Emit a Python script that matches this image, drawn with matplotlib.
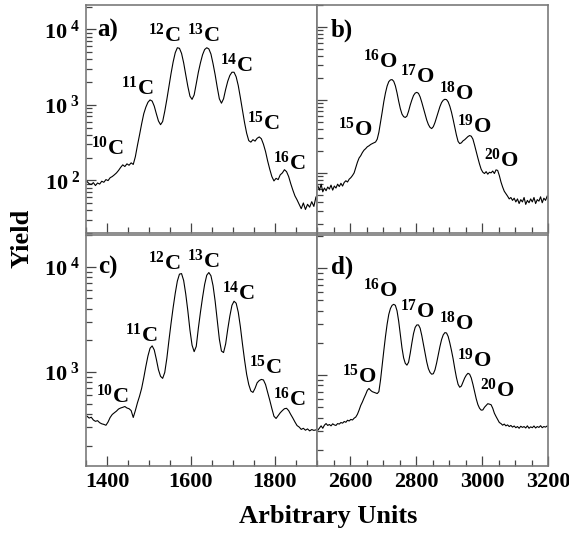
import numpy as np
import matplotlib
matplotlib.use("Agg")
import matplotlib.pyplot as plt
from matplotlib.ticker import LogLocator, MultipleLocator, FuncFormatter, NullFormatter

# --- FONTS ---
plt.rcParams['font.family'] = ['Liberation Serif', 'DejaVu Serif']
plt.rcParams['font.weight'] = 'bold'
plt.rcParams['mathtext.fontset'] = 'custom'
plt.rcParams['mathtext.rm'] = 'Liberation Serif:bold'
plt.rcParams['mathtext.it'] = 'Liberation Serif:bold'
plt.rcParams['mathtext.bf'] = 'Liberation Serif:bold'

# --- SPECTRA (counts per 5-channel bin) ---
# carbon region, first bin starts at channel 1350
yield_a = [96, 90, 88, 93, 85, 92, 89, 97, 94, 102,
           99, 108, 112, 118, 125, 135, 148, 160, 152, 165,
           158, 170, 162, 205, 290, 400, 560, 760, 930, 1080,
           1160, 1120, 960, 760, 610, 545, 600, 820, 1180, 1750,
           2600, 3700, 4900, 5700, 5600, 4800, 3600, 2500, 1750, 1300,
           1180, 1350, 1900, 2700, 3600, 4600, 5400, 5700, 5500, 4700,
           3500, 2500, 1700, 1200, 1050, 1200, 1600, 2050, 2450, 2700,
           2700, 2350, 1800, 1250, 850, 580, 420, 335, 320, 345,
           330, 360, 375, 355, 300, 240, 180, 140, 112, 98,
           106, 102, 118, 125, 138, 130, 112, 90, 74, 62,
           55, 48, 42, 50, 41, 48, 44, 52, 45, 60]

yield_c = [380, 365, 372, 350, 340, 345, 330, 322, 318, 312,
           335, 370, 395, 410, 425, 445, 455, 462, 470, 455,
           448, 430, 370, 430, 510, 590, 700, 880, 1130, 1420,
           1680, 1770, 1620, 1320, 1050, 910, 870, 990, 1350, 2000,
           2900, 4100, 5600, 7300, 8500, 8600, 7400, 5500, 3800, 2500,
           1800, 1560, 1750, 2600, 3700, 5100, 6800, 8300, 8800, 8200,
           6600, 4700, 3100, 2050, 1580, 1530, 1850, 2550, 3400, 4300,
           4700, 4500, 3700, 2700, 1850, 1300, 950, 760, 660, 640,
           700, 790, 830, 850, 840, 760, 640, 540, 450, 380,
           362, 385, 410, 430, 448, 452, 430, 395, 365, 335,
           310, 300, 285, 292, 280, 288, 276, 284, 279, 282]

# oxygen region, first bin starts at channel 2500
yield_b = [66, 58, 70, 55, 62, 57, 64, 60, 68, 58,
           66, 62, 70, 65, 72, 66, 74, 78, 75, 82,
           86, 92, 100, 118, 140, 160, 172, 190, 205, 215,
           228, 235, 245, 252, 258, 265, 290, 360, 490, 680,
           950, 1250, 1550, 1780, 1880, 1900, 1800, 1560, 1250, 960,
           760, 640, 590, 575, 600, 700, 850, 1000, 1150, 1240,
           1270, 1230, 1100, 930, 770, 640, 530, 460, 420, 405,
           430, 490, 580, 690, 810, 920, 990, 1020, 1010, 940,
           820, 680, 540, 420, 330, 270, 252, 258, 275, 285,
           300, 315, 325, 318, 290, 240, 195, 160, 132, 112,
           102, 98, 104, 96, 102, 100, 106, 98, 110, 108,
           92, 75, 64, 56, 52, 48, 44, 46, 42, 45,
           40, 44, 38, 43, 40, 46, 37, 42, 39, 44,
           40, 46, 38, 43, 41, 47, 39, 45, 42, 48]

yield_d = [305, 320, 335, 318, 340, 352, 338, 345, 335, 350,
           342, 338, 352, 348, 360, 355, 368, 362, 378, 372,
           385, 380, 395, 405, 430, 470, 520, 560, 610, 660,
           720, 750, 720, 700, 690, 680, 672, 700, 900, 1250,
           1700, 2300, 3000, 3700, 4200, 4500, 4600, 4500, 4000, 3200,
           2400, 1800, 1450, 1290, 1240, 1320, 1600, 2000, 2450, 2800,
           2950, 2950, 2750, 2350, 1950, 1600, 1330, 1150, 1060, 1020,
           1030, 1120, 1300, 1550, 1850, 2150, 2380, 2500, 2480, 2300,
           2000, 1700, 1420, 1150, 950, 820, 770, 790, 860, 940,
           1000, 1040, 1020, 940, 820, 700, 600, 530, 490, 470,
           472, 500, 520, 540, 535, 528, 490, 440, 410, 385,
           360, 352, 340, 348, 335, 342, 330, 338, 326, 334,
           322, 330, 318, 332, 324, 330, 320, 335, 318, 328,
           322, 334, 320, 330, 324, 336, 322, 330, 326, 334]

carbon_labels = ['10', '11', '12', '13', '14', '15', '16']
oxygen_labels = ['15', '16', '17', '18', '19', '20']

# label anchor points, axes fractions
pos_a = [(0.091, 0.342), (0.221, 0.605), (0.338, 0.838), (0.506, 0.838),
         (0.649, 0.706), (0.766, 0.452), (0.879, 0.276)]
pos_c = [(0.113, 0.273), (0.238, 0.537), (0.338, 0.848), (0.506, 0.857),
         (0.658, 0.719), (0.775, 0.398), (0.879, 0.260)]
pos_b = [(0.165, 0.425), (0.273, 0.724), (0.433, 0.658), (0.602, 0.583),
         (0.680, 0.439), (0.797, 0.289)]
pos_d = [(0.182, 0.359), (0.273, 0.732), (0.433, 0.641), (0.602, 0.589),
         (0.680, 0.429), (0.779, 0.299)]

FRAME = '#7a7a7a'
TICK = '#444444'


def bins(start, counts):
    return start + 2.5 + 5 * np.arange(len(counts))


def style_axis(ax, xlim, ylim, xmajor, show_x, show_y):
    ax.set_yscale('log')
    ax.set_xlim(*xlim)
    ax.set_ylim(*ylim)
    ax.xaxis.set_major_locator(MultipleLocator(xmajor))
    ax.xaxis.set_minor_locator(MultipleLocator(50))
    ax.yaxis.set_major_locator(LogLocator(base=10))
    ax.yaxis.set_minor_locator(LogLocator(base=10, subs=np.arange(2, 10)))
    ax.yaxis.set_minor_formatter(NullFormatter())
    if show_y:
        ax.yaxis.set_major_formatter(FuncFormatter(
            lambda v, p: r'$10^{\ %d}$' % round(np.log10(v))))
    else:
        ax.yaxis.set_major_formatter(NullFormatter())
    if not show_x:
        ax.xaxis.set_major_formatter(NullFormatter())
    ax.tick_params(which='both', direction='in', colors=TICK,
                   labelcolor='black', labelsize=16, width=0.9,
                   top=False, right=False)
    ax.tick_params(which='major', length=7, pad=4)
    ax.tick_params(which='minor', length=4)
    for s in ax.spines.values():
        s.set_color(FRAME)
        s.set_linewidth(1.2)


def tag(ax, label, isotopes, element, positions):
    ax.text(0.095 if label in 'ac' else 0.108,
            0.86 if label in 'ab' else 0.835,
            label + ')', transform=ax.transAxes, fontsize=18,
            ha='center', va='baseline')
    for iso, (fx, fy) in zip(isotopes, positions):
        ax.text(fx, fy, r'$^{%s}$%s' % (iso, element), transform=ax.transAxes,
                fontsize=16, ha='center', va='baseline')


fig = plt.figure(figsize=(5.69, 5.34), dpi=100)
W = 231 / 569
ax_a = fig.add_axes([86 / 569, 1 - 233 / 534, W, 228 / 534])
ax_b = fig.add_axes([317 / 569, 1 - 233 / 534, W, 228 / 534])
ax_c = fig.add_axes([86 / 569, 1 - 466 / 534, W, 231 / 534])
ax_d = fig.add_axes([317 / 569, 1 - 466 / 534, W, 231 / 534])

ax_a.plot(bins(1350, yield_a), yield_a, color='black', lw=0.8)
ax_c.plot(bins(1350, yield_c), yield_c, color='black', lw=0.8)
ax_b.plot(bins(2500, yield_b), yield_b, color='black', lw=0.8)
ax_d.plot(bins(2500, yield_d), yield_d, color='black', lw=0.8)

style_axis(ax_a, (1350, 1900), (20, 2.1e4), 200, False, True)
style_axis(ax_b, (2500, 3200), (15, 2.0e4), 200, False, False)
style_axis(ax_c, (1350, 1900), (128, 2.0e4), 200, True, True)
style_axis(ax_d, (2500, 3200), (141, 2.05e4), 200, True, False)

tag(ax_a, 'a', carbon_labels, 'C', pos_a)
tag(ax_b, 'b', oxygen_labels, 'O', pos_b)
tag(ax_c, 'c', carbon_labels, 'C', pos_c)
tag(ax_d, 'd', oxygen_labels, 'O', pos_d)

fig.text(0.038, 0.554, 'Yield', rotation=90, fontsize=19, ha='center', va='center')
fig.text(0.576, 0.032, 'Arbitrary Units', fontsize=19, ha='center', va='center')

fig.savefig('out.png', dpi=100)
